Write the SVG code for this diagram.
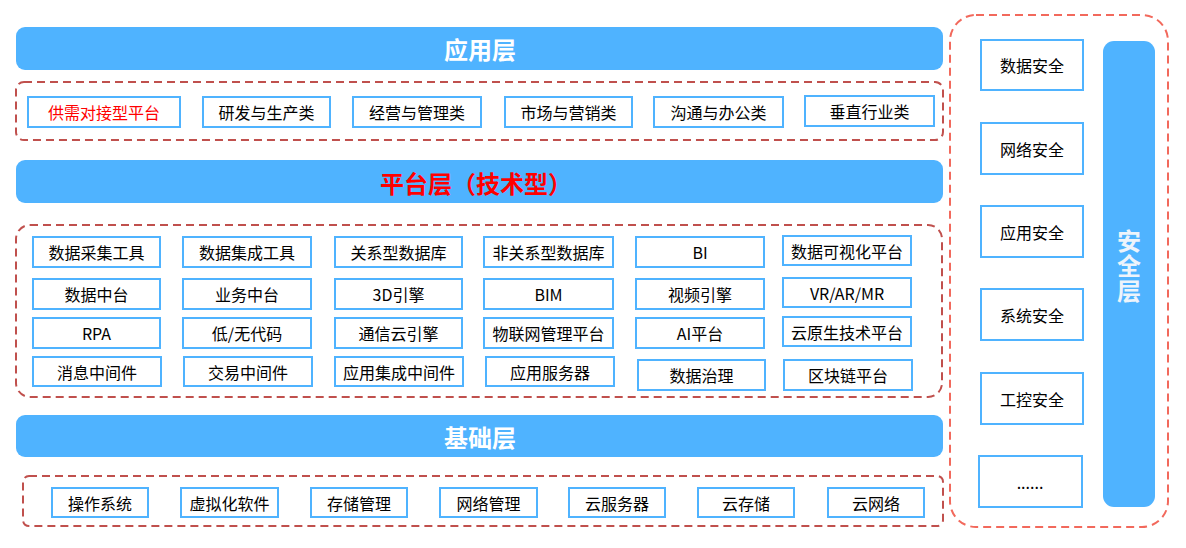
<svg xmlns="http://www.w3.org/2000/svg" width="1186" height="548" viewBox="0 0 1186 548">
<style>
.bar{fill:#4fb3ff}
.dash{fill:none;stroke:#c0504d;stroke-width:2;stroke-dasharray:8 5}
.dash2{fill:none;stroke:#f2695c;stroke-width:2;stroke-dasharray:8 5}
.box{fill:#fff;stroke:#4fb3ff;stroke-width:2}
.t{font-family:"Noto Sans CJK SC","Microsoft YaHei",sans-serif;font-size:16px;fill:#000;text-anchor:middle;dominant-baseline:central}
.h{font-family:"Noto Sans CJK SC","Microsoft YaHei",sans-serif;font-size:24px;font-weight:bold;fill:#fff;text-anchor:middle;dominant-baseline:central}
</style>
<rect width="1186" height="548" fill="#fff"/>
<g id="layers">
<g id="app-layer"><rect class="bar" x="16" y="27" width="927" height="43" rx="9"/><text class="h" x="480" y="48">应用层</text></g>
<g id="platform-layer"><rect class="bar" x="16" y="160" width="927" height="43" rx="9"/><text class="h" x="476" y="182" style="fill:#ff0000">平台层（技术型）</text></g>
<g id="base-layer"><rect class="bar" x="16" y="415" width="927" height="42" rx="9"/><text class="h" x="480" y="436">基础层</text></g>
<g id="security-layer"><rect class="bar" x="1103" y="41" width="52" height="466" rx="11"/><text class="h" x="1129" y="266" writing-mode="vertical-rl" style="fill:#eef4fb;writing-mode:vertical-rl;letter-spacing:1px">安全层</text></g>
</g>
<g id="groups">
<rect class="dash" x="16" y="82" width="927" height="58" rx="8"/>
<rect class="dash" x="16" y="225" width="926" height="172" rx="14"/>
<rect class="dash" x="23" y="476" width="920" height="50" rx="6"/>
<rect class="dash2" x="950" y="15" width="218" height="512" rx="26"/>
</g>
<g id="app-nodes">
<g id="n-gx"><rect class="box" x="28" y="97" width="152" height="30"/><text class="t" x="104" y="112" style="fill:#ff0000">供需对接型平台</text></g>
<g id="n-yf"><rect class="box" x="203" y="97" width="127" height="30"/><text class="t" x="266.5" y="112">研发与生产类</text></g>
<g id="n-jy"><rect class="box" x="353" y="97" width="128" height="30"/><text class="t" x="417" y="112">经营与管理类</text></g>
<g id="n-sc"><rect class="box" x="505" y="97" width="127" height="30"/><text class="t" x="568.5" y="112">市场与营销类</text></g>
<g id="n-gt"><rect class="box" x="654" y="97" width="129" height="30"/><text class="t" x="718.5" y="112">沟通与办公类</text></g>
<g id="n-cz"><rect class="box" x="805" y="96" width="129" height="30"/><text class="t" x="869.5" y="111">垂直行业类</text></g>
</g>
<g id="platform-nodes">
<g id="p11"><rect class="box" x="33" y="237" width="127" height="30"/><text class="t" x="96.5" y="252">数据采集工具</text></g>
<g id="p12"><rect class="box" x="183" y="237" width="128" height="30"/><text class="t" x="247" y="252">数据集成工具</text></g>
<g id="p13"><rect class="box" x="335" y="237" width="127" height="30"/><text class="t" x="398.5" y="252">关系型数据库</text></g>
<g id="p14"><rect class="box" x="484" y="237" width="129" height="30"/><text class="t" x="548.5" y="252">非关系型数据库</text></g>
<g id="p15"><rect class="box" x="636" y="237" width="128" height="30"/><text class="t" x="700" y="252">BI</text></g>
<g id="p16"><rect class="box" x="783" y="236" width="128" height="29"/><text class="t" x="847" y="250.5">数据可视化平台</text></g>
<g id="p21"><rect class="box" x="33" y="279" width="127" height="30"/><text class="t" x="96.5" y="294">数据中台</text></g>
<g id="p22"><rect class="box" x="183" y="279" width="128" height="30"/><text class="t" x="247" y="294">业务中台</text></g>
<g id="p23"><rect class="box" x="335" y="279" width="127" height="30"/><text class="t" x="398.5" y="294">3D引擎</text></g>
<g id="p24"><rect class="box" x="484" y="279" width="129" height="30"/><text class="t" x="548.5" y="294">BIM</text></g>
<g id="p25"><rect class="box" x="636" y="279" width="128" height="30"/><text class="t" x="700" y="294">视频引擎</text></g>
<g id="p26"><rect class="box" x="783" y="278" width="128" height="29"/><text class="t" x="847" y="292.5">VR/AR/MR</text></g>
<g id="p31"><rect class="box" x="33" y="318" width="127" height="30"/><text class="t" x="96.5" y="333">RPA</text></g>
<g id="p32"><rect class="box" x="183" y="318" width="128" height="30"/><text class="t" x="247" y="333">低/无代码</text></g>
<g id="p33"><rect class="box" x="335" y="318" width="127" height="30"/><text class="t" x="398.5" y="333">通信云引擎</text></g>
<g id="p34"><rect class="box" x="484" y="318" width="129" height="30"/><text class="t" x="548.5" y="333">物联网管理平台</text></g>
<g id="p35"><rect class="box" x="636" y="318" width="128" height="30"/><text class="t" x="700" y="333">AI平台</text></g>
<g id="p36"><rect class="box" x="783" y="317" width="128" height="29"/><text class="t" x="847" y="331.5">云原生技术平台</text></g>
<g id="p41"><rect class="box" x="33" y="357" width="128" height="29"/><text class="t" x="97" y="371.5">消息中间件</text></g>
<g id="p42"><rect class="box" x="184" y="357" width="128" height="29"/><text class="t" x="248" y="371.5">交易中间件</text></g>
<g id="p43"><rect class="box" x="335" y="357" width="128" height="29"/><text class="t" x="399" y="371.5">应用集成中间件</text></g>
<g id="p44"><rect class="box" x="486" y="357" width="128" height="29"/><text class="t" x="550" y="371.5">应用服务器</text></g>
<g id="p45"><rect class="box" x="638" y="360" width="127" height="30"/><text class="t" x="701.5" y="375">数据治理</text></g>
<g id="p46"><rect class="box" x="784" y="360" width="128" height="30"/><text class="t" x="848" y="375">区块链平台</text></g>
</g>
<g id="base-nodes">
<g id="b1"><rect class="box" x="52" y="488" width="96" height="29"/><text class="t" x="100" y="502.5">操作系统</text></g>
<g id="b2"><rect class="box" x="181" y="488" width="97" height="29"/><text class="t" x="229.5" y="502.5">虚拟化软件</text></g>
<g id="b3"><rect class="box" x="311" y="488" width="96" height="29"/><text class="t" x="359" y="502.5">存储管理</text></g>
<g id="b4"><rect class="box" x="440" y="488" width="97" height="29"/><text class="t" x="488.5" y="502.5">网络管理</text></g>
<g id="b5"><rect class="box" x="569" y="488" width="96" height="29"/><text class="t" x="617" y="502.5">云服务器</text></g>
<g id="b6"><rect class="box" x="698" y="488" width="96" height="29"/><text class="t" x="746" y="502.5">云存储</text></g>
<g id="b7"><rect class="box" x="828" y="488" width="96" height="29"/><text class="t" x="876" y="502.5">云网络</text></g>
</g>
<g id="security-nodes">
<g id="s1"><rect class="box" x="981" y="40" width="102" height="50"/><text class="t" x="1032" y="65">数据安全</text></g>
<g id="s2"><rect class="box" x="981" y="123" width="102" height="51"/><text class="t" x="1032" y="148.5">网络安全</text></g>
<g id="s3"><rect class="box" x="981" y="206" width="102" height="51"/><text class="t" x="1032" y="231.5">应用安全</text></g>
<g id="s4"><rect class="box" x="981" y="289" width="102" height="51"/><text class="t" x="1032" y="314.5">系统安全</text></g>
<g id="s5"><rect class="box" x="981" y="373" width="102" height="51"/><text class="t" x="1032" y="398.5">工控安全</text></g>
<g id="s6"><rect class="box" x="979" y="456" width="103" height="51"/><text class="t" x="1030" y="481.5">......</text></g>
</g>
<g id="connectors"></g>
</svg>
